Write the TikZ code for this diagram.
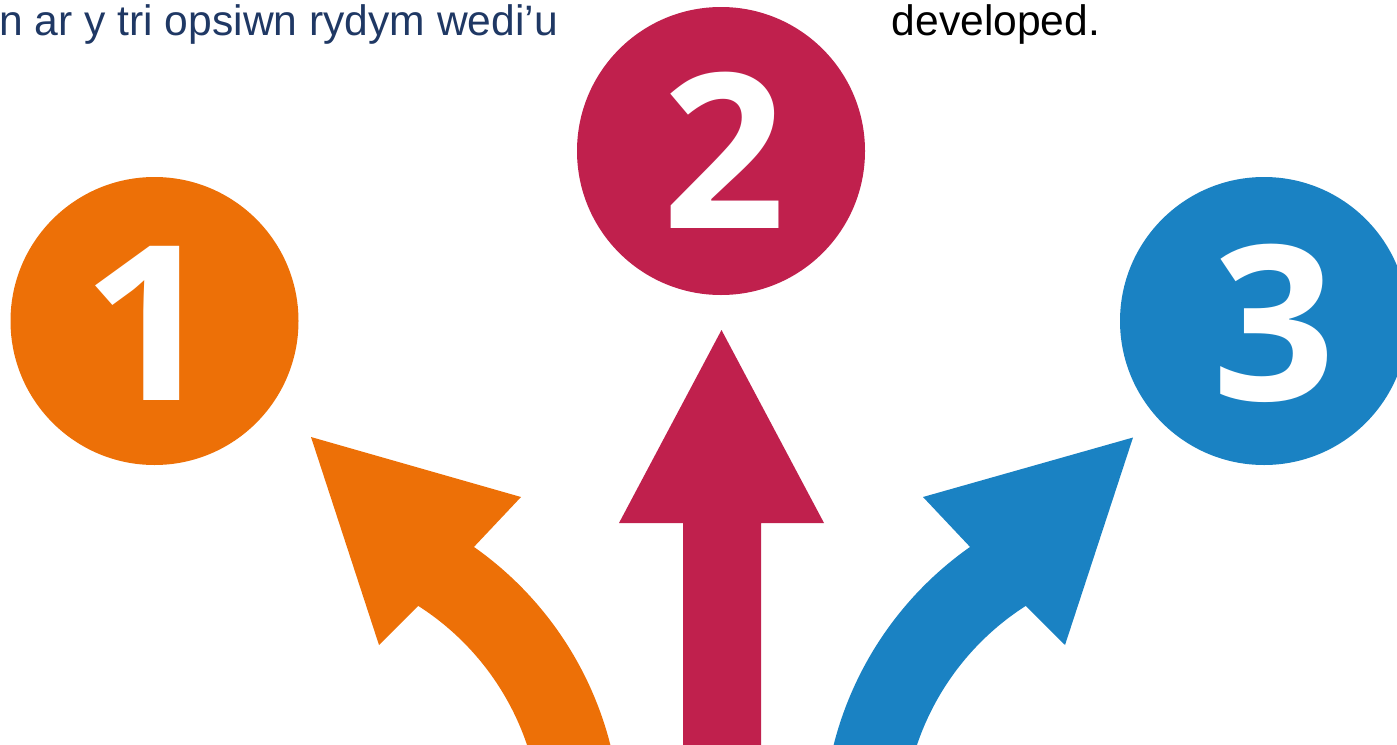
\documentclass[tikz,border=0pt]{standalone}
\usepackage{fontspec}
\setmainfont{Liberation Sans}
\newfontfamily\digitfont{Open Sans}
\usetikzlibrary{calc}
\definecolor{orangec}{RGB}{237,112,7}
\definecolor{crimsonc}{RGB}{192,32,77}
\definecolor{bluec}{RGB}{26,130,195}
\definecolor{navyc}{RGB}{31,56,100}
\tikzset{
  headtext/.style={anchor=base west, inner sep=0pt, font=\fontsize{42.6}{50}\selectfont},
  disc/.style={circle, inner sep=0pt, minimum size=288pt, draw=none},
  digit/.style={anchor=base, inner sep=0pt, text=white, font=\digitfont\bfseries\fontsize{216}{216}\selectfont},
}
\begin{document}
\begin{tikzpicture}[x=1pt,y=-1pt]
\useasboundingbox (0,0) rectangle (1397,744);
\clip (0,0) rectangle (1397,744);
% header texts
\node[headtext, text=navyc] (t1) at (-1,35) {n ar y tri opsiwn rydym wedi’u};
\node[headtext, text=black] (t2) at (891.5,35) {developed.};
% discs
\node[disc, fill=orangec] (c1) at (154.5,321) {};
\node[disc, fill=crimsonc] (c2) at (721,151) {};
\node[disc, fill=bluec] (c3) at (1264,321) {};
\node[digit, xscale=1.1] (d1) at (149,400) {1};
\node[digit] (d2) at (724,228) {2};
\node[digit] (d3) at (1274,400) {3};
% arrow centres
\coordinate (oc) at (275,830);
\coordinate (bc) at (1169,830);
% orange arrow
\fill[orangec] ($(oc)+(-5:346)$) arc[start angle=-5, end angle=-54.9, radius=346]
  -- (521,497) -- (311,437) -- (379,645)
  -- ($(oc)+(-57.4:266)$) arc[start angle=-57.4, end angle=-5, radius=266] -- cycle;
% crimson arrow
\fill[crimsonc] (683,760) -- (683,523) -- (619,523) -- (721.5,330) -- (824,523) -- (761,523) -- (761,760) -- cycle;
% blue arrow
\fill[bluec] ($(bc)+(185:346)$) arc[start angle=185, end angle=234.9, radius=346]
  -- (923,497) -- (1133,437.5) -- (1065,645)
  -- ($(bc)+(237.4:266)$) arc[start angle=237.4, end angle=185, radius=266] -- cycle;
\end{tikzpicture}
\end{document}
